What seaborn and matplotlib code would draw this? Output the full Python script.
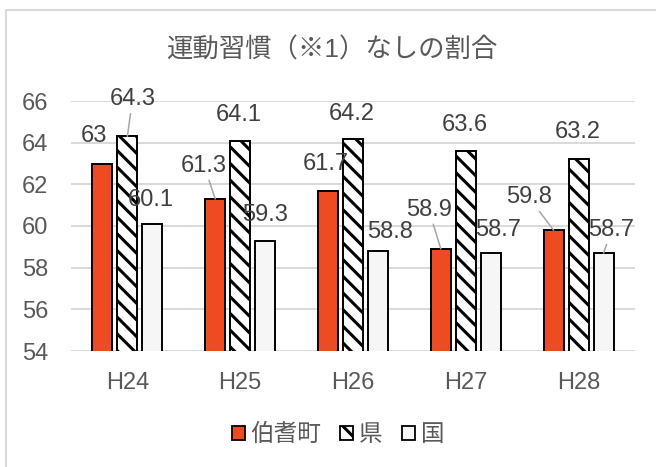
import matplotlib
matplotlib.use("Agg")
import matplotlib.pyplot as plt
from matplotlib.patches import Patch
from matplotlib.lines import Line2D
import pandas as pd
import seaborn as sns

# --- data ---------------------------------------------------------------
years = ["H24", "H25", "H26", "H27", "H28"]
series_names = ["伯耆町", "県", "国"]
hoki = [63.0, 61.3, 61.7, 58.9, 59.8]
pref = [64.3, 64.1, 64.2, 63.6, 63.2]
national = [60.1, 59.3, 58.8, 58.7, 58.7]
y_ticks = [54, 56, 58, 60, 62, 64, 66]
title = "運動習慣（※1）なしの割合"

# --- styling ------------------------------------------------------------
colors = ["#EE4B23", "#FFFFFF", "#F6F6F6"]
hatches = ["", "\\\\", ""]
text_gray = "#595959"
label_gray = "#404040"
grid_gray = "#D9D9D9"

# data-label offsets in pixels (dx, dy) from each bar's top centre
label_offsets = {
    "伯耆町": [(-8, 27), (-11, 33), (-2, 27), (-12, 39), (-25, 33)],
    "県": [(5, 37), (-1, 26), (-1, 25), (-1, 26), (-1, 27)],
    "国": [(-2, 24), (0, 26), (12, 19), (7, 23), (8, 23)],
}
leader_lines = {
    "伯耆町": [False, True, False, True, True],
    "県": [True, False, False, False, False],
    "国": [False, False, False, False, True],
}

sns.set_theme(style="white")
plt.rcParams["font.family"] = ["Liberation Sans", "Noto Sans CJK JP"]
plt.rcParams["hatch.linewidth"] = 2.2
plt.rcParams["hatch.color"] = "black"

df = pd.DataFrame({
    "year": years * 3,
    "series": [name for name in series_names for _ in years],
    "value": hoki + pref + national,
})

W, H = 656, 467
fig = plt.figure(figsize=(W / 100, H / 100), dpi=100)
fig.patch.set_facecolor("white")
ax = fig.add_axes([71 / W, 1 - 351 / H, (635 - 71) / W, 250 / H])

sns.barplot(
    data=df, x="year", y="value", hue="series",
    order=years, hue_order=series_names, palette=colors,
    width=0.664, gap=0.2, saturation=1, errorbar=None,
    edgecolor="black", linewidth=1.4, legend=False, ax=ax,
)

for cont, hatch in zip(ax.containers, hatches):
    for bar in cont:
        bar.set_hatch(hatch)

ax.set_ylim(54, 66)
ax.set_yticks(y_ticks)
ax.set_xlabel("")
ax.set_ylabel("")
ax.yaxis.grid(True, color=grid_gray, linewidth=1.4)
ax.set_axisbelow(True)
for s in ax.spines.values():
    s.set_visible(False)
ax.tick_params(axis="y", length=0, labelsize=17, colors=text_gray, pad=16.5)
ax.tick_params(axis="x", length=0, labelsize=17, colors=text_gray, pad=15)

# data labels
for name, cont in zip(series_names, ax.containers):
    for j, bar in enumerate(cont):
        v = bar.get_height()
        x = bar.get_x() + bar.get_width() / 2
        dx, dy = label_offsets[name][j]
        arrow = None
        if leader_lines[name][j]:
            arrow = dict(arrowstyle="-", color="#A6A6A6", lw=1.1,
                         shrinkA=0, shrinkB=0)
        ax.annotate(f"{v:g}", xy=(x, v), xytext=(dx, dy),
                    textcoords="offset pixels", ha="center", va="center",
                    fontsize=17, color=label_gray, arrowprops=arrow,
                    annotation_clip=False)

# title
fig.text(332 / W, 1 - 50 / H, title, ha="center", va="center",
         fontsize=19, color=text_gray)

# legend
handles = [Patch(facecolor=c, edgecolor="black", hatch=h, linewidth=1.3)
           for c, h in zip(colors, hatches)]
fig.legend(handles, series_names, loc="center",
           bbox_to_anchor=(338 / W, 1 - 435 / H), ncol=3, frameon=False,
           fontsize=17, handlelength=0.55, handleheight=0.55,
           handletextpad=0.25, columnspacing=0.8, labelcolor=text_gray)

# chart-area frame (top and left edges)
fig.add_artist(Line2D([6 / W, 6 / W], [0, 1 - 10 / H], transform=fig.transFigure,
                      color=grid_gray, linewidth=1.5))
fig.add_artist(Line2D([6 / W, 1], [1 - 10 / H, 1 - 10 / H], transform=fig.transFigure,
                      color=grid_gray, linewidth=1.5))

fig.savefig("out.png", dpi=100)
